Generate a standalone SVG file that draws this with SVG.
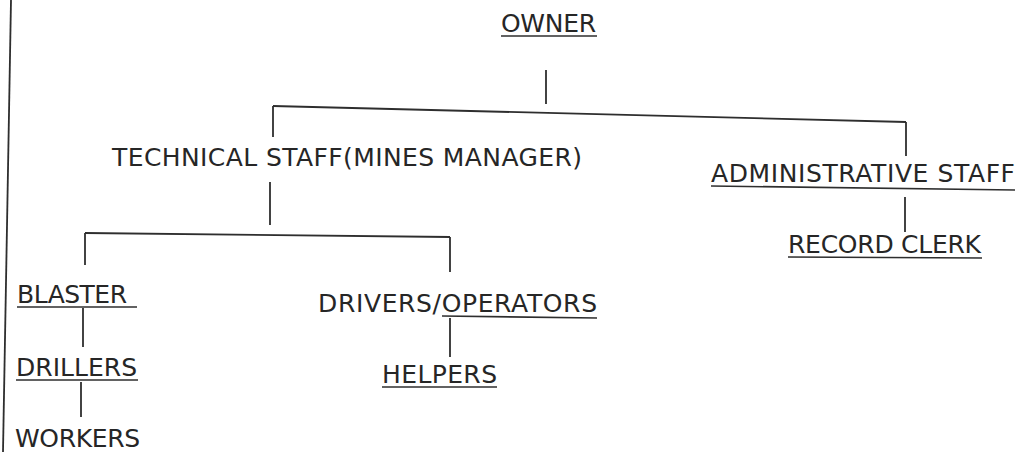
<svg xmlns="http://www.w3.org/2000/svg" width="1031" height="452" viewBox="0 0 1031 452">
<style>
text{font-family:"DejaVu Sans","Verdana",sans-serif;font-size:25px;fill:#262626}
line{stroke:#2e2e2e;stroke-width:1.8;fill:none}
.u{stroke-width:1.6}
</style>
<rect width="1031" height="452" fill="#ffffff"/>
<line x1="11" y1="0" x2="3" y2="452"/>
<g id="connectors">
<line x1="546" y1="70" x2="546" y2="104"/>
<line x1="273" y1="106" x2="906" y2="122"/>
<line x1="273" y1="106" x2="273" y2="137"/>
<line x1="906" y1="122" x2="906" y2="156"/>
<line x1="270" y1="182" x2="270" y2="225"/>
<line x1="85" y1="233" x2="450" y2="237"/>
<line x1="85" y1="233" x2="85" y2="265"/>
<line x1="450" y1="237" x2="450" y2="272"/>
<line x1="83" y1="308" x2="83" y2="347"/>
<line x1="81" y1="382" x2="81" y2="417"/>
<line x1="450" y1="318" x2="450" y2="357"/>
<line x1="905" y1="197" x2="905" y2="232"/>
</g>
<g id="owner"><text x="501" y="32" textLength="95">OWNER</text><line class="u" x1="501" y1="36" x2="597" y2="36"/></g>
<g id="technical"><text x="112" y="166" textLength="470">TECHNICAL STAFF(MINES MANAGER)</text></g>
<g id="admin"><text x="711" y="182" textLength="304">ADMINISTRATIVE STAFF</text><line class="u" x1="711" y1="186" x2="1015" y2="190"/></g>
<g id="record"><text x="788" y="253" textLength="193">RECORD CLERK</text><line class="u" x1="788" y1="257" x2="982" y2="258"/></g>
<g id="blaster"><text x="17" y="303" textLength="110">BLASTER</text><line class="u" x1="17" y1="307" x2="137" y2="307"/></g>
<g id="drillers"><text x="16" y="376" textLength="121">DRILLERS</text><line class="u" x1="16" y1="380" x2="138" y2="380"/></g>
<g id="workers"><text x="15" y="447" textLength="125">WORKERS</text></g>
<g id="drivers"><text x="318" y="312" textLength="279">DRIVERS/OPERATORS</text><line class="u" x1="442" y1="316" x2="597" y2="318"/></g>
<g id="helpers"><text x="382" y="383" textLength="115">HELPERS</text><line class="u" x1="382" y1="387" x2="497" y2="387"/></g>
</svg>
